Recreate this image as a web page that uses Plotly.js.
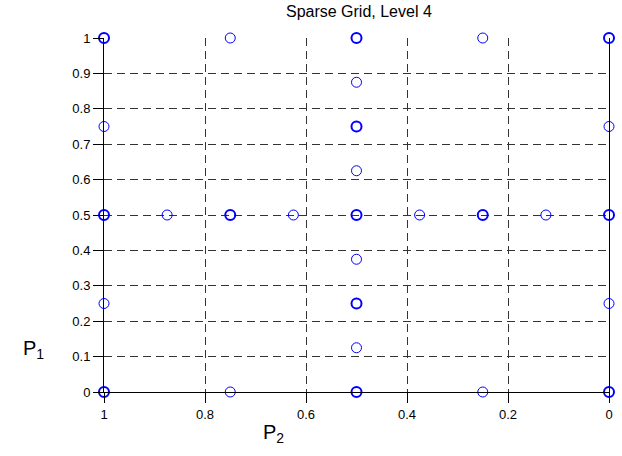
<!DOCTYPE html>
<html>
<head>
<meta charset="utf-8">
<script src="https://cdn.plot.ly/plotly-3.0.1.min.js"></script>
<style>html,body{margin:0;padding:0;background:#fff;}#plot{width:622px;height:456px;}</style>
</head>
<body>
<div id="plot"></div>
<script>
// Sparse grid level 4 nodes (P2 = x, P1 = y)
// points that appear once
const p2Single = [1, 1, 0.75, 0.75, 0.875, 0.625, 0.5, 0.5, 0.5, 0.5, 0.375, 0.25, 0.25, 0.125, 0, 0];
const p1Single = [0.75, 0.25, 1, 0, 0.5, 0.5, 0.875, 0.625, 0.375, 0.125, 0.5, 1, 0, 0.5, 0.75, 0.25];
// points that appear repeatedly (drawn bolder)
const p2Repeated = [1, 1, 1, 0.75, 0.5, 0.5, 0.5, 0.5, 0.5, 0.25, 0, 0, 0];
const p1Repeated = [1, 0.5, 0, 0.5, 1, 0.75, 0.5, 0.25, 0, 0.5, 1, 0.5, 0];

const xTickVals = [0, 0.2, 0.4, 0.6, 0.8, 1];
const xTickText = ['0', '0.2', '0.4', '0.6', '0.8', '1'];
const yTickVals = [0, 0.1, 0.2, 0.3, 0.4, 0.5, 0.6, 0.7, 0.8, 0.9, 1];
const yTickText = ['0', '0.1', '0.2', '0.3', '0.4', '0.5', '0.6', '0.7', '0.8', '0.9', '1'];

const traces = [
  {x: p2Single, y: p1Single, type: 'scatter', mode: 'markers', cliponaxis: false,
   marker: {symbol: 'circle-open', size: 10, color: '#0000ff', line: {width: 1, color: '#0000ff'}}, hoverinfo: 'none'},
  {x: p2Repeated, y: p1Repeated, type: 'scatter', mode: 'markers', cliponaxis: false,
   marker: {symbol: 'circle-open', size: 10, color: '#0000ff', line: {width: 2, color: '#0000ff'}}, hoverinfo: 'none'}
];

const axisCommon = {
  showgrid: true, gridcolor: '#333', gridwidth: 1, griddash: '8px,5px',
  zeroline: false, showline: true, linecolor: '#000', linewidth: 1,
  ticks: 'outside', ticklen: 10, tickcolor: '#000', tickwidth: 1,
  tickfont: {family: 'Liberation Sans, Arial, sans-serif', size: 13, color: '#000'},
  tickmode: 'array', fixedrange: true
};

const layout = {
  width: 622, height: 456,
  margin: {l: 104, r: 13, t: 38, b: 64},
  paper_bgcolor: '#fff', plot_bgcolor: '#fff',
  showlegend: false,
  title: {text: 'Sparse Grid, Level 4', x: 0.577, xanchor: 'center', y: 0.975, yanchor: 'middle',
          font: {family: 'Liberation Sans, Arial, sans-serif', size: 16, color: '#000'}},
  xaxis: Object.assign({}, axisCommon, {range: [1, 0], tickvals: xTickVals, ticktext: xTickText, mirror: false}),
  yaxis: Object.assign({}, axisCommon, {range: [0, 1], tickvals: yTickVals, ticktext: yTickText, mirror: true}),
  annotations: [
    {text: 'P<sub>1</sub>', xref: 'paper', yref: 'paper', x: -0.115, y: 0.12, xanchor: 'right', yanchor: 'middle', showarrow: false,
     font: {family: 'Liberation Sans, Arial, sans-serif', size: 20, color: '#000'}},
    {text: 'P<sub>2</sub>', xref: 'paper', yref: 'paper', x: 0.335, y: -0.075, xanchor: 'center', yanchor: 'top', showarrow: false,
     font: {family: 'Liberation Sans, Arial, sans-serif', size: 20, color: '#000'}}
  ]
};

Plotly.newPlot('plot', traces, layout, {displayModeBar: false, staticPlot: true});
</script>
</body>
</html>
